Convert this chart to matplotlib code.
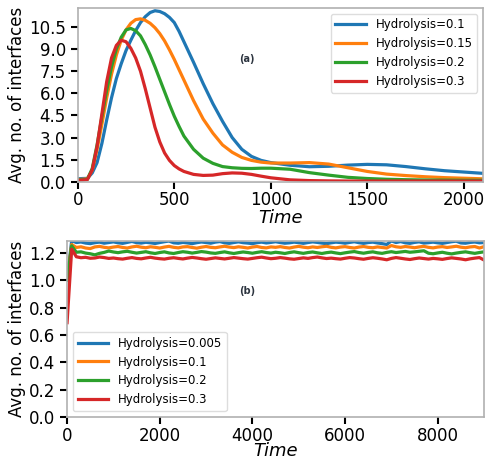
import matplotlib
matplotlib.use('Agg')  # headless backend
import matplotlib.pyplot as plt

# ---- panel (a): peak of interfaces vs time ----
time_a = [0, 25, 50, 75, 100, 125, 150, 175, 200, 225, 250, 275, 300, 325, 350,
          375, 400, 425, 450, 475, 500, 525, 550, 600, 650, 700, 750, 800, 850, 900,
          950, 1000, 1100, 1200, 1300, 1400, 1500, 1600, 1700, 1800, 1900, 2000, 2100]
labels_a = ["Hydrolysis=0.1", "Hydrolysis=0.15", "Hydrolysis=0.2", "Hydrolysis=0.3"]
h010 = [0.2, 0.22, 0.23, 0.6, 1.3, 2.6, 4.2, 5.7, 7.0, 8.0, 8.9, 9.6, 10.25, 10.8, 11.2,
        11.48, 11.6, 11.55, 11.4, 11.15, 10.8, 10.2, 9.5, 8.1, 6.65, 5.3, 4.1, 3.0, 2.2, 1.72,
        1.45, 1.3, 1.12, 1.02, 1.05, 1.13, 1.18, 1.15, 1.03, 0.88, 0.75, 0.66, 0.57]
h015 = [0.15, 0.17, 0.2, 0.8, 2.2, 3.9, 5.7, 7.3, 8.6, 9.6, 10.3, 10.75, 11.0, 11.05, 10.95,
        10.75, 10.45, 10.05, 9.55, 8.95, 8.3, 7.6, 6.9, 5.5, 4.25, 3.3, 2.5, 2.0, 1.65, 1.45,
        1.33, 1.27, 1.27, 1.3, 1.2, 0.95, 0.7, 0.52, 0.42, 0.34, 0.28, 0.24, 0.2]
h020 = [0.12, 0.14, 0.17, 0.9, 2.5, 4.4, 6.2, 7.8, 9.0, 9.8, 10.3, 10.4, 10.25, 9.9, 9.3,
        8.6, 7.8, 6.95, 6.1, 5.25, 4.45, 3.75, 3.1, 2.2, 1.6, 1.25, 1.03, 0.95, 0.91, 0.9,
        0.92, 0.92, 0.85, 0.62, 0.45, 0.3, 0.22, 0.17, 0.14, 0.12, 0.11, 0.1, 0.1]
h030 = [0.1, 0.12, 0.15, 0.8, 2.4, 4.6, 6.8, 8.4, 9.25, 9.6, 9.5, 9.05, 8.4, 7.5, 6.3,
        5.0, 3.7, 2.7, 1.95, 1.45, 1.1, 0.87, 0.7, 0.5, 0.43, 0.45, 0.55, 0.6, 0.58, 0.5,
        0.38, 0.27, 0.13, 0.08, 0.06, 0.05, 0.05, 0.05, 0.05, 0.05, 0.05, 0.05, 0.05]

# ---- panel (b): steady state vs time ----
time_b = [0] + list(range(100, 9001, 100))
labels_b = ["Hydrolysis=0.005", "Hydrolysis=0.1", "Hydrolysis=0.2", "Hydrolysis=0.3"]
b0005 = [1.00, 1.290, 1.276, 1.280, 1.272, 1.268, 1.275, 1.279, 1.271, 1.276,
         1.281, 1.274, 1.270, 1.277, 1.284, 1.275, 1.272, 1.278, 1.274, 1.269,
         1.276, 1.282, 1.287, 1.274, 1.271, 1.277, 1.273, 1.268, 1.275, 1.280,
         1.276, 1.271, 1.279, 1.283, 1.274, 1.270, 1.276, 1.281, 1.275, 1.272,
         1.268, 1.275, 1.279, 1.273, 1.277, 1.282, 1.276, 1.271, 1.274, 1.279,
         1.275, 1.270, 1.276, 1.281, 1.277, 1.272, 1.268, 1.274, 1.279, 1.276,
         1.271, 1.277, 1.282, 1.275, 1.270, 1.276, 1.279, 1.273, 1.268, 1.262,
         1.288, 1.276, 1.283, 1.274, 1.270, 1.277, 1.281, 1.272, 1.275, 1.279,
         1.274, 1.270, 1.276, 1.282, 1.286, 1.273, 1.271, 1.277, 1.280, 1.274,
         1.276]
b01 = [1.00, 1.262, 1.240, 1.245, 1.236, 1.232, 1.244, 1.248, 1.241, 1.237,
       1.243, 1.247, 1.240, 1.236, 1.244, 1.249, 1.242, 1.238, 1.245, 1.241,
       1.236, 1.243, 1.248, 1.241, 1.237, 1.244, 1.246, 1.240, 1.235, 1.242,
       1.247, 1.241, 1.238, 1.244, 1.249, 1.243, 1.239, 1.245, 1.241, 1.236,
       1.243, 1.247, 1.240, 1.237, 1.244, 1.241, 1.246, 1.240, 1.236, 1.243,
       1.248, 1.242, 1.238, 1.244, 1.240, 1.245, 1.249, 1.241, 1.237, 1.243,
       1.246, 1.240, 1.236, 1.243, 1.247, 1.241, 1.238, 1.244, 1.240, 1.236,
       1.254, 1.245, 1.241, 1.247, 1.243, 1.238, 1.244, 1.248, 1.241, 1.237,
       1.243, 1.246, 1.240, 1.244, 1.249, 1.242, 1.238, 1.244, 1.247, 1.236,
       1.246]
b02 = [1.00, 1.252, 1.205, 1.208, 1.199, 1.194, 1.186, 1.197, 1.204, 1.214,
       1.207, 1.202, 1.208, 1.212, 1.205, 1.199, 1.204, 1.209, 1.201, 1.196,
       1.203, 1.208, 1.200, 1.196, 1.203, 1.209, 1.205, 1.199, 1.204, 1.210,
       1.206, 1.200, 1.197, 1.203, 1.208, 1.201, 1.196, 1.202, 1.207, 1.203,
       1.198, 1.204, 1.209, 1.203, 1.199, 1.205, 1.201, 1.196, 1.203, 1.208,
       1.202, 1.197, 1.203, 1.207, 1.201, 1.196, 1.202, 1.206, 1.200, 1.195,
       1.201, 1.206, 1.210, 1.203, 1.198, 1.204, 1.208, 1.201, 1.197, 1.204,
       1.209, 1.203, 1.207, 1.211, 1.205, 1.208, 1.212, 1.216, 1.198, 1.194,
       1.200, 1.205, 1.198, 1.193, 1.199, 1.204, 1.208, 1.202, 1.197, 1.203,
       1.208]
b03 = [0.690, 1.228, 1.172, 1.165, 1.168, 1.161, 1.163, 1.170, 1.166, 1.160,
       1.163, 1.158, 1.155, 1.161, 1.166, 1.160, 1.157, 1.163, 1.168, 1.162,
       1.158, 1.155, 1.161, 1.165, 1.160, 1.156, 1.162, 1.167, 1.163, 1.158,
       1.154, 1.159, 1.164, 1.160, 1.156, 1.161, 1.166, 1.162, 1.158, 1.155,
       1.160, 1.165, 1.169, 1.163, 1.158, 1.161, 1.166, 1.162, 1.157, 1.154,
       1.159, 1.164, 1.160, 1.166, 1.170, 1.164, 1.159, 1.162, 1.158, 1.155,
       1.161, 1.166, 1.163, 1.158, 1.154, 1.160, 1.165, 1.161, 1.156, 1.150,
       1.160, 1.166, 1.161, 1.156, 1.152, 1.158, 1.163, 1.159, 1.155, 1.160,
       1.157, 1.153, 1.159, 1.164, 1.160, 1.156, 1.150, 1.157, 1.162, 1.166,
       1.148]

colors = ["#1f77b4", "#ff7f0e", "#2ca02c", "#d62728"]


def style_axes(ax):
    for sp in ax.spines.values():
        sp.set_color("#b0b0b0")
        sp.set_linewidth(1.2)
    ax.tick_params(axis="both", direction="out", length=5, width=1.5,
                   color="black", labelsize=12)
    ax.tick_params(axis="x", pad=2)


fig = plt.figure(figsize=(4.86, 4.59), dpi=100)
ax1 = fig.add_axes([0.160, 0.604, 0.834, 0.379])
ax2 = fig.add_axes([0.138, 0.0915, 0.858, 0.3835])

for ys, lab, c in zip([h010, h015, h020, h030], labels_a, colors):
    ax1.plot(time_a, ys, color=c, lw=2.3, label=lab, solid_joinstyle="round")
ax1.set_xlim(0, 2100)
ax1.set_ylim(0, 11.8)
ax1.set_yticks([0, 1.5, 3.0, 4.5, 6.0, 7.5, 9.0, 10.5])
ax1.set_yticklabels(["0.0", "1.5", "3.0", "4.5", "6.0", "7.5", "9.0", "10.5"])
ax1.set_xticks([0, 500, 1000, 1500, 2000])
ax1.set_xlabel("Time", fontsize=13, style="italic", labelpad=0)
ax1.set_ylabel("Avg. no. of interfaces", fontsize=12, labelpad=2)
ax1.text(0.417, 0.706, "(a)", transform=ax1.transAxes, fontsize=7,
         fontweight="bold", color="#2d3540", ha="center", va="center")
ax1.legend(loc="upper right", fontsize=8.5, handlelength=2.6, framealpha=1,
           edgecolor="#dddddd")
style_axes(ax1)

for ys, lab, c in zip([b0005, b01, b02, b03], labels_b, colors):
    ax2.plot(time_b, ys, color=c, lw=2.3, label=lab, solid_joinstyle="round")
ax2.set_xlim(0, 9000)
ax2.set_ylim(0, 1.2875)
ax2.set_yticks([0.0, 0.2, 0.4, 0.6, 0.8, 1.0, 1.2])
ax2.set_xticks([0, 2000, 4000, 6000, 8000])
ax2.set_xlabel("Time", fontsize=13, style="italic", labelpad=-2)
ax2.set_ylabel("Avg. no. of interfaces", fontsize=12, labelpad=2)
ax2.text(0.432, 0.716, "(b)", transform=ax2.transAxes, fontsize=7,
         fontweight="bold", color="#2d3540", ha="center", va="center")
ax2.legend(loc="lower left", fontsize=8.5, handlelength=2.6, framealpha=1,
           edgecolor="#dddddd")
style_axes(ax2)

fig.savefig("out.png", dpi=100)
